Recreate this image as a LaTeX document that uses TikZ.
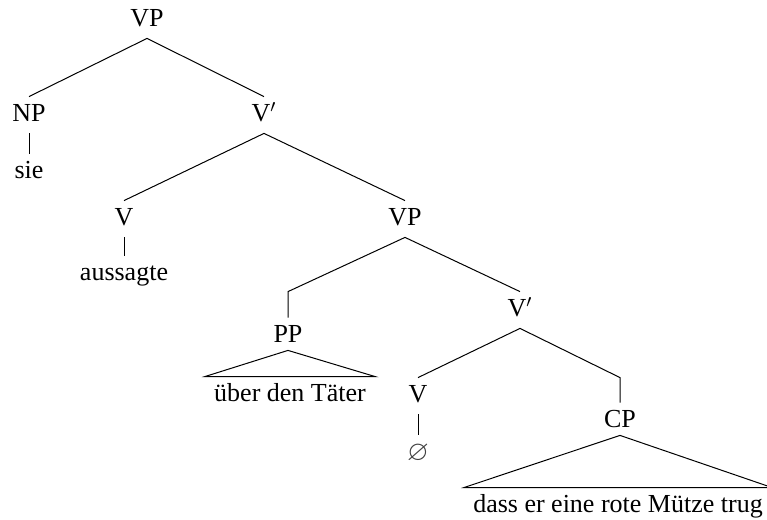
\documentclass[tikz,border=0pt]{standalone}
\usepackage{amssymb}
\usepackage{fontspec}
\setmainfont{Liberation Serif}

\begin{document}
\begin{tikzpicture}[x=0.5pt,y=-0.5pt]

\tikzset{cat/.style = {anchor=base, font=\fontsize{13}{15}\selectfont, text height=8.5pt, text depth=2.5pt, inner ysep=3.5pt, inner xsep=4.5pt}}
\tikzset{branch/.style = {line width=0.5pt}}
\useasboundingbox (0,0) rectangle (767,520);
%nodes
\node[cat] (vp) at (147,26) {VP};
\node[cat] (np) at (29,121) {NP};
\node[cat] (vbar) at (264,121) {V$'$};
\node[cat] (sie) at (29,178) {sie};
\node[cat] (v) at (124,225) {V};
\node[cat] (aussagte) at (124,280) {aussagte};
\node[cat] (vp2) at (405,225) {VP};
\node[cat] (pp) at (288,342) {PP};
\node[cat] (taeter) at (290,401) {über den Täter};
\node[cat] (vbar2) at (520,316) {V$'$};
\node[cat] (v2) at (418,402) {V};
\node[inner sep=0pt, font=\fontsize{14}{16}\selectfont, text=black!75] (zero) at (418,453) {$\varnothing$};
\node[cat] (cp) at (620,427) {CP};
\node[cat] (muetze) at (618,512) {dass er eine rote Mütze trug};
%edges
\draw[branch] (np.north) -- (vp.south) -- (vbar.north);
\draw[branch] (np.south) -- (sie.north);
\draw[branch] (v.north) -- (vbar.south) -- (vp2.north);
\draw[branch] (v.south) -- (aussagte.north);
\draw[branch] (pp.north) -- (pp.north |- vbar2.north) -- (vp2.south) -- (vbar2.north);
\draw[branch] (taeter.north west) -- ([yshift=2pt]pp.south) -- (taeter.north east) -- cycle;
\draw[branch] (v2.north) -- (vbar2.south) -- (cp.north |- v2.north) -- (cp.north);
\draw[branch, shorten >=4pt] (v2.south) -- (zero.north);
\draw[branch] (muetze.north west) -- ([yshift=2pt]cp.south) -- (muetze.north east) -- cycle;

\end{tikzpicture}
\end{document}
